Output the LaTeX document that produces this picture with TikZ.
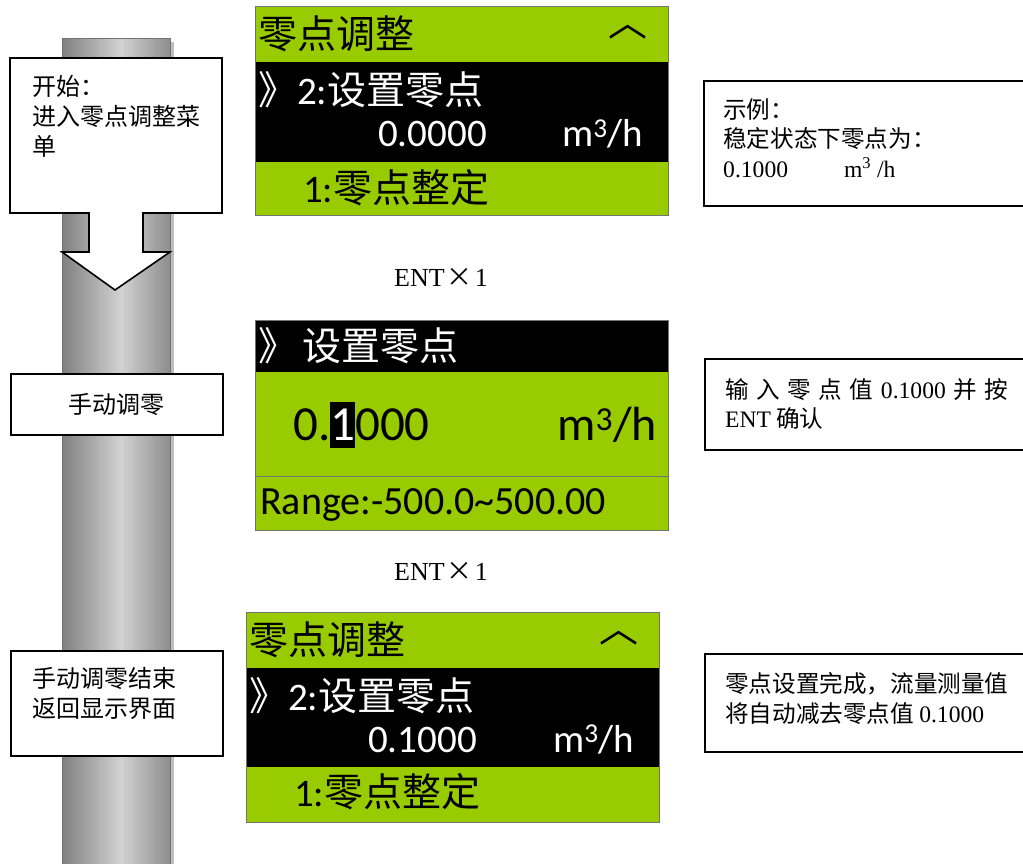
\documentclass[tikz,border=0pt]{standalone}
\usepackage{fontspec}
\setmainfont{Noto Sans CJK SC}
\newfontfamily\serifnum{Liberation Serif}
\newfontfamily\lcdnum{Carlito}
\usetikzlibrary{positioning}
\definecolor{lcdGreen}{RGB}{153, 204, 0}
\definecolor{pillarDark}{RGB}{128, 128, 128}
\definecolor{pillarLight}{RGB}{210, 210, 210}
\definecolor{pillarShadow}{RGB}{190, 190, 190}
\definecolor{frameGray}{RGB}{115, 115, 115}

\begin{document}
\begin{tikzpicture}[
    x=1pt, y=-1pt,
    note/.style={
        draw=black,
        fill=white,
        rectangle,
        line width=1.6pt,
        inner sep=0pt,
        anchor=north west,
        font=\fontsize{24}{29}\selectfont
    },
    notetext/.style={
        anchor=west,
        align=left,
        inner sep=0pt,
        font=\fontsize{24}{30}\selectfont
    },
    sidetext/.style={
        notetext,
        font=\fontsize{23.6}{29.5}\selectfont
    },
    lcdrow/.style={
        rectangle,
        fill=lcdGreen,
        inner sep=0pt,
        anchor=north west,
        minimum width=413pt
    },
    lcdtext/.style={
        inner sep=0pt,
        font=\fontsize{39}{44}\selectfont
    },
    lcdbig/.style={
        inner sep=0pt,
        font=\fontsize{49}{54}\selectfont
    },
    keylabel/.style={
        inner sep=0pt,
        font=\serifnum\fontsize{26}{30}\selectfont
    }
]
\useasboundingbox (0,0) rectangle (1023,864);
\clip (0,0) rectangle (1023,864);

% ================= PILLAR =================
\fill[pillarShadow] (170,42) rectangle (174,870);
\foreach \i in {0,...,53} {
    \pgfmathtruncatemacro\tone{max(0, 100 - 180*abs(\i/53 - 0.55))}
    \fill[pillarLight!\tone!pillarDark] (62+2*\i,39) rectangle (64.4+2*\i,870);
}
\draw[frameGray, line width=1pt] (62,39) rectangle (170,870);

% ================= LEFT STEPS =================
\draw[line width=1.6pt, fill=white] (10,58) -- (222,58) -- (222,213) -- (143,213) -- (143,252)
    -- (170,252) -- (115,290) -- (62,252) -- (89,252) -- (89,213) -- (10,213) -- cycle;
\node[notetext] (starttext) at (32,116.5) {开始：\\进入零点调整菜\\单};

\node[note, minimum width=212pt, minimum height=61pt] (manual) at (10,373) {手动调零};

\node[note, minimum width=212pt, minimum height=105pt] (finish) at (10,650) {};
\node[notetext] (finishtext) at (32,693.5) {手动调零结束\\返回显示界面};

% ================= SCREEN 1 =================
\node[lcdrow, minimum height=56pt] (m1title) at (255,6) {};
\node[lcdrow, fill=black, minimum height=100pt] (m1sel) at (255,62) {};
\node[lcdrow, minimum height=53pt] (m1next) at (255,162) {};
\draw[frameGray, line width=0.8pt] (m1title.north west) rectangle (m1next.south east);

\node[lcdtext, anchor=west] (m1head) at (258,34) {零点调整};
\node[lcdtext] (m1up) at (628,32) {︿};
\node[lcdtext, anchor=west, text=white] (m1item) at (258,90) {》{\lcdnum 2:}设置零点};
\node[lcdtext, anchor=base west, text=white] (m1value) at (378,147) {\lcdnum 0.0000};
\node[lcdtext, anchor=base west, text=white] (m1unit) at (562,147) {\lcdnum m\textsuperscript{3}/h};
\node[lcdtext, anchor=west] (m1other) at (303,188) {{\lcdnum 1:}零点整定};

\node[keylabel] (key1) at (441,277) {ENT\hspace{2pt}{\normalfont ×}\hspace{2pt}1};

% ================= SCREEN 2 =================
\node[lcdrow, fill=black, minimum height=52pt] (m2title) at (255,320) {};
\node[lcdrow, minimum height=104pt] (m2value) at (255,372) {};
\node[lcdrow, minimum height=54pt] (m2range) at (255,476) {};
\draw[frameGray, line width=0.8pt] (m2title.north west) rectangle (m2range.south east);
\draw[frameGray, line width=0.8pt] (m2value.south west) -- (m2value.south east);

\node[lcdtext, anchor=west, text=white] (m2head) at (258,346) {》\hspace{5pt}设置零点};
\node[lcdbig, anchor=base west] (m2digits) at (293,440)
    {\lcdnum 0.{\setlength{\fboxsep}{0pt}\colorbox{black}{\rule[-8pt]{0pt}{46pt}\textcolor{white}{1}}}000};
\node[lcdbig, anchor=base west, font=\fontsize{48}{54}\selectfont] (m2unit) at (557,440) {\lcdnum m\textsuperscript{3}/h};
\node[lcdtext, anchor=base west, font=\fontsize{40}{44}\selectfont] (m2limit) at (260,514) {\lcdnum Range:-500.0\textasciitilde 500.00};

\node[keylabel] (key2) at (441,571) {ENT\hspace{2pt}{\normalfont ×}\hspace{2pt}1};

% ================= SCREEN 3 =================
\node[lcdrow, minimum height=56pt] (m3title) at (246,612) {};
\node[lcdrow, fill=black, minimum height=99pt] (m3sel) at (246,668) {};
\node[lcdrow, minimum height=55pt] (m3next) at (246,767) {};
\draw[frameGray, line width=0.8pt] (m3title.north west) rectangle (m3next.south east);

\node[lcdtext, anchor=west] (m3head) at (249,640) {零点调整};
\node[lcdtext] (m3up) at (619,638) {︿};
\node[lcdtext, anchor=west, text=white] (m3item) at (249,696) {》{\lcdnum 2:}设置零点};
\node[lcdtext, anchor=base west, text=white] (m3value) at (368,752) {\lcdnum 0.1000};
\node[lcdtext, anchor=base west, text=white] (m3unit) at (553,752) {\lcdnum m\textsuperscript{3}/h};
\node[lcdtext, anchor=west] (m3other) at (294,792) {{\lcdnum 1:}零点整定};

% ================= RIGHT NOTES =================
\node[note, minimum width=340pt, minimum height=125pt] (example) at (703,80) {};
\node[sidetext] (exampletext) at (723,138)
    {示例：\\稳定状态下零点为：\\{\serifnum 0.1000\hspace{56pt}m\textsuperscript{3} /h}};

\node[note, minimum width=340pt, minimum height=91pt] (entry) at (704,358) {};
\node[sidetext] (entrytext) at (725,404)
    {\makebox[283pt][s]{输 入 零 点 值 {\serifnum 0.1000} 并 按}\\{\serifnum ENT} 确认};

\node[note, minimum width=340pt, minimum height=98pt] (result) at (704,653) {};
\node[sidetext] (resulttext) at (725,698.5)
    {零点设置完成，流量测量值\\将自动减去零点值 {\serifnum 0.1000}};

\end{tikzpicture}
\end{document}
